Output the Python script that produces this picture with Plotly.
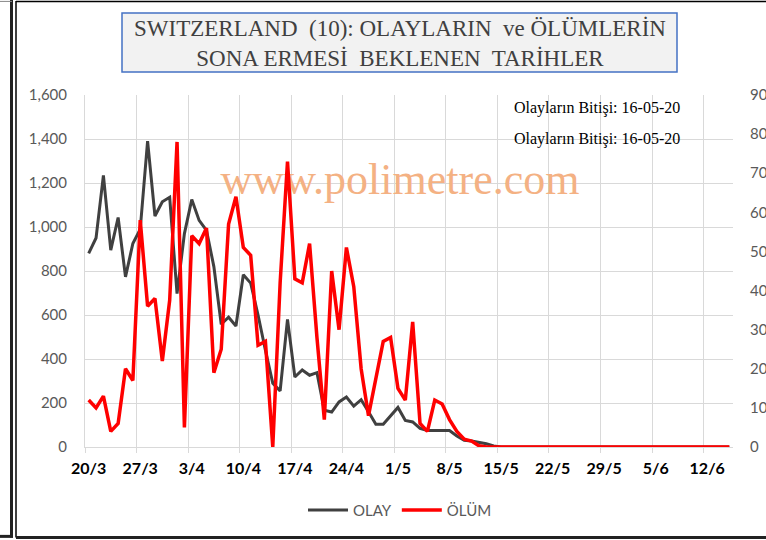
import pandas as pd
import plotly.graph_objects as go

# ---------------- data ----------------
start_date = "2020-03-20"
n_days = 88
dates = pd.date_range(start_date, periods=n_days)

olay = [880, 950, 1235, 895, 1043, 773, 925, 990, 1390, 1050,
        1115, 1135, 697, 970, 1125, 1030, 985, 820, 558, 590,
        550, 783, 745, 600, 440, 290, 255, 580, 318, 350,
        326, 338, 167, 159, 205, 227, 186, 215, 160, 103,
        103, 144, 180, 121, 114, 85, 75, 75, 75, 75,
        50, 30, 27, 22, 15, 5, 0, 0, 0, 0,
        0, 0, 0, 0, 0, 0, 0, 0, 0, 0,
        0, 0, 0, 0, 0, 0, 0, 0, 0, 0,
        0, 0, 0, 0, 0, 0, 0, 0]

olum = [12, 10, 13, 4, 6, 20, 17, 58, 36, 38,
        22, 37.5, 78, 5, 54, 52, 56, 19, 25, 57,
        64, 51, 49, 26, 27, 0, 42, 73, 43, 42,
        52, 28, 7, 45, 30, 51, 41, 20, 8, 17,
        27, 28, 15, 12, 32, 6, 4, 12, 11, 7,
        4, 2, 1.5, 0.3, 0, 0, 0, 0, 0, 0,
        0, 0, 0, 0, 0, 0, 0, 0, 0, 0,
        0, 0, 0, 0, 0, 0, 0, 0, 0, 0,
        0, 0, 0, 0, 0, 0, 0, 0]

tick_labels = ["20/3", "27/3", "3/4", "10/4", "17/4", "24/4", "1/5",
               "8/5", "15/5", "22/5", "29/5", "5/6", "12/6"]
left_ticks = [0, 200, 400, 600, 800, 1000, 1200, 1400, 1600]
right_ticks = [0, 10, 20, 30, 40, 50, 60, 70, 80, 90]

title_text = ("SWITZERLAND\u00a0 (10): OLAYLARIN\u00a0 ve ÖLÜMLERİN<br>"
              "SONA ERMESİ\u00a0 BEKLENEN\u00a0 TARİHLER")
note_text = "Olayların Bitişi: 16-05-20"
watermark = "www.polimetre.com"

# ---------------- layout geometry ----------------
W, H = 766, 540
PL, PR, PT, PB = 85, 733, 95, 446.7
half = pd.Timedelta(hours=12)
x_range = [dates[0] - half, dates[-1] + half]
tick_vals = [dates[i] for i in range(0, n_days, 7)]
boundaries = [dates[i] - half for i in range(0, n_days, 7)]


def px(x):
    return (x - PL) / (PR - PL)


def py(y):
    return (PB - y) / (PB - PT)


GRID = "#d9d9d9"
FONT = "Lato"

fig = go.Figure()

# watermark drawn beneath the lines
span = x_range[1] - x_range[0]
fig.add_trace(go.Scatter(
    x=[x_range[0] + span * px(400)], y=[1600 * py(183)],
    mode="text", text=[watermark], showlegend=False, hoverinfo="skip",
    textfont=dict(family="Liberation Serif", size=44, color="#f4b183"),
    xaxis="x", yaxis="y"))

fig.add_trace(go.Scatter(
    x=dates, y=olay, name="OLAY", mode="lines",
    line=dict(color="#404040", width=3), yaxis="y"))
fig.add_trace(go.Scatter(
    x=dates, y=olum, name="ÖLÜM", mode="lines",
    line=dict(color="#ff0000", width=3.5), yaxis="y2"))

fig.update_layout(
    width=W, height=H,
    margin=dict(l=PL, r=W - PR, t=PT, b=H - PB, autoexpand=False),
    paper_bgcolor="white", plot_bgcolor="white",
    font=dict(family=FONT, color="#595959", size=15),
    showlegend=True,
    legend=dict(orientation="h", x=px(400), xanchor="center",
                y=py(510), yanchor="middle", itemwidth=40,
                font=dict(family=FONT, size=15, color="#595959"),
                bgcolor="rgba(0,0,0,0)"),
    xaxis=dict(
        type="date", range=x_range, automargin=False,
        tickmode="array", tickvals=tick_vals, ticktext=tick_labels,
        showgrid=False, ticks="", ticklabelstandoff=7,
        tickfont=dict(family=FONT, size=16, color="black", weight="bold"),
        showline=True, linecolor=GRID, linewidth=1,
        minor=dict(tickmode="array", tickvals=boundaries, showgrid=True,
                   gridcolor=GRID, gridwidth=1, ticks="outside",
                   ticklen=5, tickcolor=GRID),
        zeroline=False),
    yaxis=dict(
        range=[0, 1600], tickmode="array", tickvals=left_ticks,
        automargin=False,
        tickformat=",", showgrid=True, gridcolor=GRID, gridwidth=1,
        zeroline=False, showline=True, linecolor=GRID, linewidth=1,
        ticks="", ticklabelstandoff=14,
        tickfont=dict(family=FONT, size=15, color="#595959")),
    yaxis2=dict(
        range=[0, 90], tickmode="array", tickvals=right_ticks,
        automargin=False,
        overlaying="y", side="right", showgrid=False, zeroline=False,
        ticks="", ticklabelstandoff=16,
        tickfont=dict(family=FONT, size=15, color="#595959")),
)

shapes = []
# title box
shapes.append(dict(type="rect", xref="paper", yref="paper",
                   x0=px(122), x1=px(677), y0=py(72), y1=py(13),
                   fillcolor="#f2f2f2", line=dict(color="#4472c4", width=1.5),
                   layer="above"))
# outer frames
shapes.append(dict(type="line", xref="paper", yref="paper",
                   x0=px(11.5), x1=px(11.5), y0=py(0), y1=py(537),
                   line=dict(color="#222222", width=3)))
shapes.append(dict(type="line", xref="paper", yref="paper",
                   x0=px(0), x1=px(13), y0=py(536), y1=py(536),
                   line=dict(color="#222222", width=3)))
shapes.append(dict(type="line", xref="paper", yref="paper",
                   x0=px(16), x1=px(16), y0=py(1), y1=py(537),
                   line=dict(color="black", width=1.5)))
shapes.append(dict(type="line", xref="paper", yref="paper",
                   x0=px(16), x1=px(770), y0=py(1.5), y1=py(1.5),
                   line=dict(color="black", width=1.5)))
shapes.append(dict(type="line", xref="paper", yref="paper",
                   x0=px(16), x1=px(770), y0=py(537), y1=py(537),
                   line=dict(color="#222222", width=3)))
shapes.append(dict(type="line", xref="paper", yref="paper",
                   x0=px(0), x1=px(12), y0=py(1.5), y1=py(1.5),
                   line=dict(color="#888888", width=1)))
fig.update_layout(shapes=shapes)

annotations = [
    dict(text=title_text, xref="paper", yref="paper",
         x=px(399.5), y=py(43.5), xanchor="center", yanchor="middle",
         showarrow=False, align="center",
         font=dict(family="Liberation Serif", size=23, color="#404040")),
    dict(text=note_text, xref="paper", yref="paper",
         x=px(597), y=py(108), xanchor="center", yanchor="middle",
         showarrow=False,
         font=dict(family="Liberation Serif", size=16, color="black")),
    dict(text=note_text, xref="paper", yref="paper",
         x=px(597), y=py(139), xanchor="center", yanchor="middle",
         showarrow=False,
         font=dict(family="Liberation Serif", size=16, color="black")),
]
fig.update_layout(annotations=annotations)

fig.write_html(
    "out.html",
    config={"displayModeBar": False},
    post_script="document.body.style.margin='0';"
                "document.body.style.overflow='hidden';")
